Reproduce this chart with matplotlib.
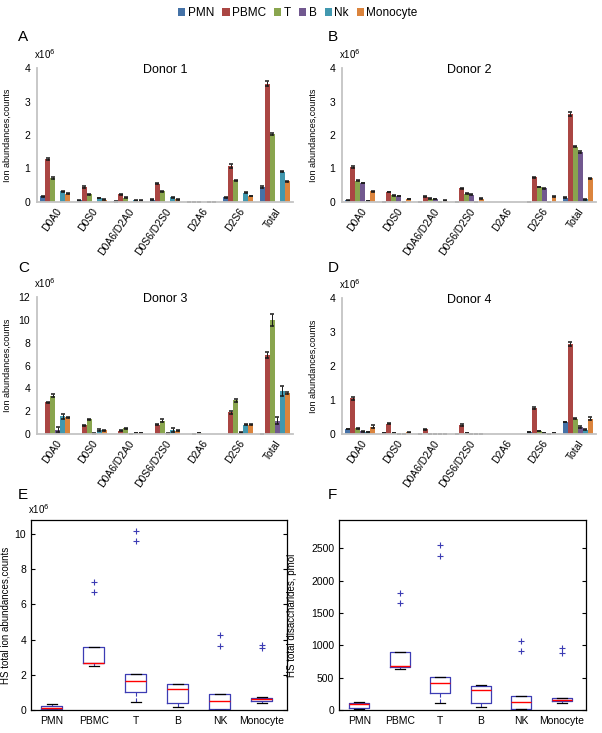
import numpy as np
import matplotlib.pyplot as plt
from matplotlib.patches import Patch

plt.rcParams['font.family'] = ['Liberation Sans', 'DejaVu Sans']

# --- categories ---
cells = ['PMN', 'PBMC', 'T', 'B', 'Nk', 'Monocyte']
cell_colors = ['#4572a7', '#aa4643', '#89a54e', '#71588f', '#4198af', '#db843d']
cats = ['D0A0', 'D0S0', 'D0A6/D2A0', 'D0S6/D2S0', 'D2A6', 'D2S6', 'Total']

# --- ion abundances (x10^6), one row per cell type ---
donor1 = [[0.17, 0.05, 0.02, 0.07, 0.01, 0.14, 0.45],
          [1.28, 0.45, 0.23, 0.55, 0.01, 1.07, 3.53],
          [0.72, 0.23, 0.13, 0.32, 0.01, 0.65, 2.03],
          [0, 0, 0, 0, 0, 0, 0],
          [0.32, 0.12, 0.05, 0.14, 0.01, 0.28, 0.91],
          [0.25, 0.07, 0.04, 0.08, 0.01, 0.18, 0.62]]
donor1_err = [[0.01, 0.01, 0.01, 0.01, 0.0, 0.01, 0.02],
              [0.02, 0.02, 0.01, 0.02, 0.0, 0.06, 0.08],
              [0.02, 0.01, 0.01, 0.01, 0.0, 0.02, 0.03],
              [0, 0, 0, 0, 0, 0, 0],
              [0.01, 0.01, 0.01, 0.01, 0.0, 0.01, 0.02],
              [0.01, 0.01, 0.01, 0.01, 0.0, 0.01, 0.02]]

donor2 = [[0.05, 0.01, 0.005, 0.01, 0.0, 0.01, 0.13],
          [1.04, 0.30, 0.16, 0.41, 0.0, 0.74, 2.62],
          [0.64, 0.20, 0.10, 0.25, 0.0, 0.45, 1.65],
          [0.57, 0.18, 0.09, 0.22, 0.0, 0.41, 1.50],
          [0.03, 0.01, 0.005, 0.01, 0.0, 0.01, 0.08],
          [0.32, 0.09, 0.04, 0.10, 0.0, 0.16, 0.71]]
donor2_err = [[0.01, 0.0, 0.0, 0.0, 0.0, 0.0, 0.01],
              [0.02, 0.01, 0.01, 0.02, 0.0, 0.02, 0.06],
              [0.01, 0.01, 0.01, 0.01, 0.0, 0.01, 0.02],
              [0.01, 0.01, 0.01, 0.01, 0.0, 0.02, 0.03],
              [0.0, 0.0, 0.0, 0.0, 0.0, 0.0, 0.01],
              [0.01, 0.01, 0.01, 0.01, 0.0, 0.01, 0.02]]

donor3 = [[0.0, 0.0, 0.0, 0.0, 0.0, 0.0, 0.02],
          [2.76, 0.78, 0.29, 0.81, 0.02, 1.89, 6.92],
          [3.37, 1.28, 0.49, 1.16, 0.05, 2.94, 9.97],
          [0.38, 0.05, 0.02, 0.05, 0.0, 0.12, 1.16],
          [1.54, 0.35, 0.09, 0.35, 0.0, 0.81, 3.78],
          [1.45, 0.32, 0.08, 0.29, 0.0, 0.81, 3.58]]
donor3_err = [[0, 0, 0, 0, 0, 0, 0],
              [0.05, 0.05, 0.03, 0.06, 0.0, 0.15, 0.30],
              [0.15, 0.05, 0.04, 0.12, 0.0, 0.10, 0.50],
              [0.20, 0.02, 0.01, 0.02, 0.0, 0.03, 0.30],
              [0.25, 0.06, 0.02, 0.15, 0.0, 0.04, 0.45],
              [0.06, 0.03, 0.02, 0.03, 0.0, 0.03, 0.10]]

donor4 = [[0.15, 0.02, 0.005, 0.01, 0.0, 0.06, 0.35],
          [1.05, 0.30, 0.14, 0.27, 0.0, 0.76, 2.65],
          [0.17, 0.03, 0.01, 0.02, 0.0, 0.09, 0.45],
          [0.08, 0.01, 0.005, 0.01, 0.0, 0.02, 0.21],
          [0.06, 0.01, 0.005, 0.01, 0.0, 0.01, 0.13],
          [0.22, 0.05, 0.01, 0.01, 0.0, 0.02, 0.45]]
donor4_err = [[0.01, 0.0, 0.0, 0.0, 0.0, 0.01, 0.01],
              [0.04, 0.02, 0.01, 0.02, 0.0, 0.02, 0.07],
              [0.01, 0.0, 0.0, 0.0, 0.0, 0.01, 0.01],
              [0.01, 0.0, 0.0, 0.0, 0.0, 0.0, 0.02],
              [0.01, 0.0, 0.0, 0.0, 0.0, 0.0, 0.01],
              [0.05, 0.01, 0.0, 0.0, 0.0, 0.0, 0.05]]

# --- boxplot summaries ---
box_labels = ['PMN', 'PBMC', 'T', 'B', 'NK', 'Monocyte']
# E: HS total ion abundances (x10^6)
e_whislo = [0.0, 2.5, 0.45, 0.15, 0.02, 0.4]
e_q1 = [0.05, 2.65, 1.05, 0.4, 0.08, 0.5]
e_med = [0.12, 2.7, 1.65, 1.2, 0.5, 0.6]
e_q3 = [0.25, 3.6, 2.03, 1.45, 0.9, 0.7]
e_whishi = [0.35, 3.6, 2.03, 1.5, 0.9, 0.72]
e_fliers = [[], [6.7, 7.25], [9.6, 10.2], [], [3.65, 4.25], [3.5, 3.7]]
# F: HS total disaccharides (pmol)
f_whislo = [20, 640, 115, 45, 10, 115]
f_q1 = [30, 670, 260, 110, 15, 135]
f_med = [100, 680, 420, 310, 125, 155]
f_q3 = [110, 890, 510, 370, 220, 180]
f_whishi = [120, 890, 510, 380, 220, 185]
f_fliers = [[], [1660, 1810], [2390, 2550], [], [920, 1070], [880, 960]]

W, H = 602, 733
fig = plt.figure(figsize=(W / 100, H / 100), dpi=100)


def rect(left, top, right, bottom):
    return [left / W, 1 - bottom / H, (right - left) / W, (bottom - top) / H]


def x10(ax, x, y):
    ax.text(x, y, 'x10$^{6}$', transform=ax.transAxes, ha='left', va='bottom', fontsize=7)


def bar_panel(pos, vals, errs, title, ymax, letter, letter_xy, label_x):
    ax = fig.add_axes(rect(*pos))
    x = np.arange(len(cats))
    w = 0.137
    for i in range(len(cells)):
        v = np.array(vals[i], dtype=float)
        e = np.array(errs[i], dtype=float)
        px = x + (i - 2.5) * w
        ax.bar(px, v, width=w, color=cell_colors[i], edgecolor='none')
        m = v > 0
        ax.errorbar(px[m], v[m], yerr=e[m], fmt='none', ecolor='#1a1a1a',
                    elinewidth=0.7, capsize=1.7, capthick=1.1)
    ax.set_xlim(-0.5, len(cats) - 0.5)
    ax.set_ylim(0, ymax)
    ax.set_yticks(range(0, ymax + 1, 1 if ymax <= 4 else 2))
    ax.set_xticks(x)
    ax.set_xticklabels(cats, rotation=55, ha='right', va='top', rotation_mode='anchor', fontsize=7)
    ax.tick_params(axis='both', length=0, labelsize=7.5, pad=3)
    ax.tick_params(axis='y', pad=5)
    for s in ['top', 'right']:
        ax.spines[s].set_visible(False)
    for s in ['left', 'bottom']:
        ax.spines[s].set_color('#c4c4c4')
        ax.spines[s].set_linewidth(1.3)
    ax.set_ylabel('Ion abundances,counts', fontsize=6.5)
    ax.yaxis.set_label_coords((label_x - pos[0]) / (pos[2] - pos[0]), 0.5)
    ax.text(0.5, 0.985, title, transform=ax.transAxes, ha='center', va='center', fontsize=9)
    x10(ax, -0.01, 1.05)
    fig.text(letter_xy[0] / W, 1 - letter_xy[1] / H, letter, fontsize=11, ha='left', va='center')
    return ax


bar_panel((37, 68, 293, 202), donor1, donor1_err, 'Donor 1', 4, 'A', (18, 37), 12)
bar_panel((342, 68, 596, 202), donor2, donor2_err, 'Donor 2', 4, 'B', (328, 37), 318)
bar_panel((37, 297, 293, 434), donor3, donor3_err, 'Donor 3', 12, 'C', (18, 268), 12)
bar_panel((342, 298, 596, 434), donor4, donor4_err, 'Donor 4', 4, 'D', (328, 268), 318)


def box_panel(pos, whislo, q1, med, q3, whishi, fliers, ymax, yticks, ylabel, letter, letter_xy, label_x):
    ax = fig.add_axes(rect(*pos))
    stats = []
    for i, lab in enumerate(box_labels):
        stats.append(dict(label=lab, whislo=whislo[i], q1=q1[i], med=med[i], q3=q3[i],
                          whishi=whishi[i], fliers=fliers[i]))
    blue = '#3c3cb4'
    ax.bxp(stats, widths=0.5, capwidths=0.25,
           boxprops=dict(color=blue, lw=0.9),
           medianprops=dict(color='red', lw=1.0),
           whiskerprops=dict(color=blue, lw=0.8, ls='--'),
           capprops=dict(color='black', lw=0.9),
           flierprops=dict(marker='+', markeredgecolor=blue, markersize=5, markeredgewidth=0.8))
    ax.set_xlim(0.5, 6.6)
    ax.set_ylim(0, ymax)
    ax.set_yticks(yticks)
    ax.tick_params(axis='both', direction='in', length=3, labelsize=7.5, top=True, right=True)
    ax.tick_params(axis='x', length=0, pad=4)
    for s in ax.spines.values():
        s.set_linewidth(0.9)
    ax.set_ylabel(ylabel, fontsize=7)
    ax.yaxis.set_label_coords((label_x - pos[0]) / (pos[2] - pos[0]), 0.5)
    fig.text(letter_xy[0] / W, 1 - letter_xy[1] / H, letter, fontsize=11, ha='left', va='center')
    return ax


axE = box_panel((31, 520, 287, 710), e_whislo, e_q1, e_med, e_q3, e_whishi, e_fliers,
                10.8, [0, 2, 4, 6, 8, 10], 'HS total ion abundances,counts', 'E', (18, 495), 11)
x10(axE, -0.01, 1.02)
box_panel((339, 520, 586, 710), f_whislo, f_q1, f_med, f_q3, f_whishi, f_fliers,
          2940, [0, 500, 1000, 1500, 2000, 2500], 'HS total disaccharides, pmol', 'F', (328, 495), 297)

handles = [Patch(facecolor=c, edgecolor='none') for c in cell_colors]
fig.legend(handles, cells, loc='upper center', bbox_to_anchor=(0.495, 1.005), ncol=6, frameon=False,
           fontsize=8.5, handlelength=0.6, handleheight=0.6, handletextpad=0.2, columnspacing=0.7)

fig.savefig('out.png', dpi=100)
